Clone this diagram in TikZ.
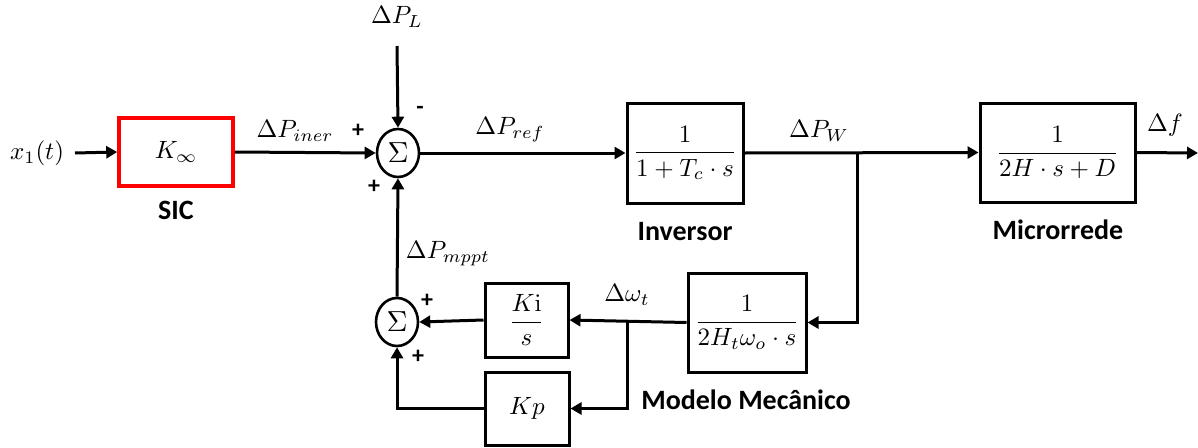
\documentclass[tikz,border=0pt]{standalone}
\usepackage[no-math]{fontspec}
\setmainfont{Carlito}
\usetikzlibrary{arrows.meta,shapes.geometric}
\newcommand\mmath[1]{\scalebox{2.5}{$\displaystyle #1$}}
\newcommand\sumsym{\scalebox{2.9}{$\Sigma$}}
\tikzset{
  arr/.style={line width=3pt,-{Triangle[length=11pt,width=12pt]}},
  blk/.style={draw,line width=3pt,inner sep=0pt},
  sumn/.style={draw,ellipse,line width=2.6pt,minimum width=42pt,minimum height=48pt,inner sep=0pt},
  mlbl/.style={inner sep=0pt},
  blbl/.style={inner sep=0pt,font=\fontsize{28}{31}\selectfont\bfseries},
  sgn/.style={inner sep=0pt,font=\fontsize{24}{28}\selectfont\bfseries},
}
\begin{document}
\begin{tikzpicture}[x=1pt,y=-1pt]
\useasboundingbox (0,0) rectangle (1198,447);
% blocks
\node[blk,draw=red,line width=3.5pt,minimum width=114pt,minimum height=68pt] (sic) at (176,152) {\mmath{K_\infty}};
\node[blk,minimum width=116pt,minimum height=100pt] (inv) at (685,153) {\mmath{\frac{1}{1+T_c\cdot s}}};
\node[blk,minimum width=155pt,minimum height=99pt] (mg) at (1057.5,152.5) {\mmath{\frac{1}{2H\cdot s+D}}};
\node[blk,minimum width=118pt,minimum height=99pt] (mech) at (747,322.5) {\mmath{\frac{1}{2H_t\omega_o\cdot s}}};
\node[blk,minimum width=83pt,minimum height=74pt] (ki) at (526.5,320) {\mmath{\frac{K\mathrm{i}}{s}}};
\node[blk,minimum width=84pt,minimum height=73pt] (kp) at (527,408.5) {\mmath{Kp}};
% summing junctions
\node[sumn] (s1) at (398,153) {\sumsym};
\node[sumn] (s2) at (397,322) {\sumsym};
% labels
\node[mlbl] (x1) at (37,153) {\mmath{x_1(t)}};
\node[mlbl] (PL) at (397,17) {\mmath{\Delta P_L}};
\coordinate (pLtop) at (397,46);
\node[mlbl] (Piner) at (295,131) {\mmath{\Delta P_{iner}}};
\node[mlbl] (Pref) at (510,130) {\mmath{\Delta P_{ref}}};
\node[mlbl] (PW) at (819,131) {\mmath{\Delta P_W}};
\node[mlbl] (df) at (1165,125) {\mmath{\Delta f}};
\node[mlbl] (Pmppt) at (448,254) {\mmath{\Delta P_{mppt}}};
\node[mlbl] (dw) at (627,295) {\mmath{\Delta\omega_t}};
\node[sgn] (p1) at (358,131) {+};
\node[sgn] (m1) at (420,110) {-};
\node[sgn] (p2) at (374,187) {+};
\node[sgn] (p3) at (427,301) {+};
\node[sgn] (p4) at (418,357) {+};
\node[blbl] (lsic) at (176,210) {SIC};
\node[blbl] (linv) at (685,232) {Inversor};
\node[blbl] (lmg) at (1058,230) {Microrrede};
\node[blbl] (lmech) at (746,400) {Modelo Mecânico};
% connectors
\coordinate (x1end) at (75,153);
\draw[arr] (x1end) -- (sic.west);
\draw[arr] (sic.east) -- (s1.west);
\draw[arr] (pLtop) -- (s1.north);
\draw[arr] (s1.east) -- (inv.west);
\draw[arr] (inv.east) -- (mg.west);
\coordinate (out) at (1198,153);
\draw[arr] (mg.east) -- (out);
\coordinate (br1) at (857,153);
\draw[arr] (br1) |- (mech.east);
\draw[arr] (mech.west) -- (ki.east);
\coordinate (br2) at (627,322);
\draw[arr] (br2) |- (kp.east);
\draw[arr] (ki.west) -- (s2.east);
\draw[arr] (kp.west) -| (s2.south);
\draw[arr] (s2.north) -- (s1.south);
\end{tikzpicture}
\end{document}
